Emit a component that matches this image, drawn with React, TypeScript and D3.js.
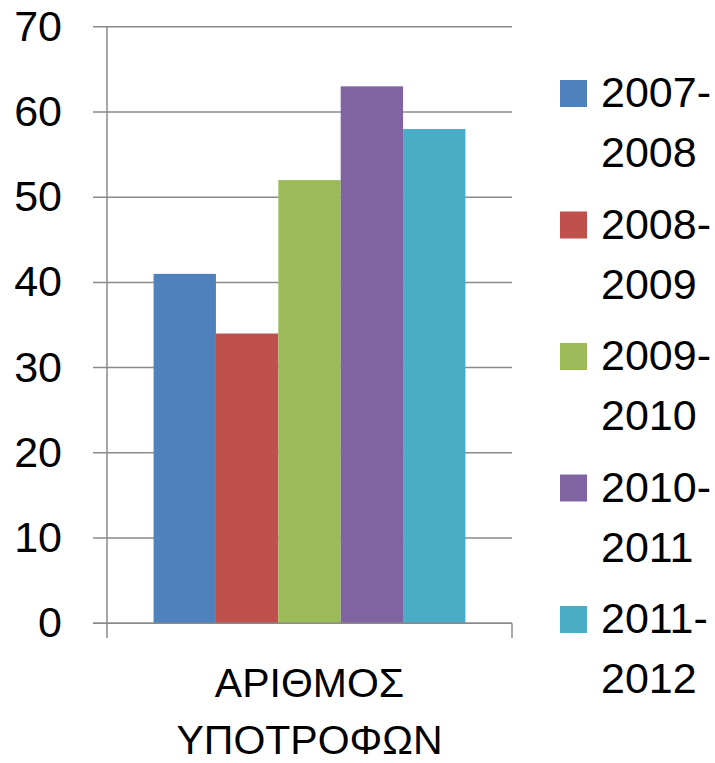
import React from "react";
import * as d3 from "d3";

const categories = ["ΑΡΙΘΜΟΣ ΥΠΟΤΡΟΦΩΝ"];
const categoryLines = [["ΑΡΙΘΜΟΣ", "ΥΠΟΤΡΟΦΩΝ"]];
const seriesNames = ["2007-2008", "2008-2009", "2009-2010", "2010-2011", "2011-2012"];
const seriesLegendLines = [["2007-", "2008"], ["2008-", "2009"], ["2009-", "2010"], ["2010-", "2011"], ["2011-", "2012"]];
const seriesValues = [41, 34, 52, 63, 58];
const seriesColors = ["#4F81BD", "#C0504D", "#9BBB59", "#8064A2", "#4BACC6"];
const yTicks = [0, 10, 20, 30, 40, 50, 60, 70];

const W = 715;
const H = 763;
const FONT = "'Liberation Sans', Arial, sans-serif";

export default function App() {
  const left = 107;
  const right = 512;
  const top = 26.7;
  const bottom = 623.3;

  const y = d3.scaleLinear().domain([0, 70]).range([bottom, top]);
  const x0 = d3.scaleBand<string>().domain(categories).range([left, right]).paddingInner(0).paddingOuter(0);
  const catW = x0.bandwidth();
  const groupW = catW * 0.77;
  const x1 = d3
    .scaleBand<string>()
    .domain(seriesNames)
    .range([(catW - groupW) / 2, (catW + groupW) / 2])
    .padding(0);

  const grid = "#8a8a8a";

  return (
    <svg
      width={W}
      height={H}
      style={{ position: "absolute", left: 0, top: 0, background: "#fff" }}
      fontFamily={FONT}
    >
      {/* gridlines and y tick labels */}
      {yTicks.map((t) => (
        <g key={t}>
          <line x1={93} x2={right} y1={y(t)} y2={y(t)} stroke={grid} strokeWidth={1.5} />
          <text x={62} y={y(t) + 14} textAnchor="end" fontSize={43} fill="#000">
            {t}
          </text>
        </g>
      ))}
      {/* bars */}
      {categories.map((c) => (
        <g key={c} transform={`translate(${x0(c)},0)`}>
          {seriesNames.map((s, i) => (
            <rect
              key={s}
              x={x1(s)}
              y={y(seriesValues[i])}
              width={x1.bandwidth()}
              height={y(0) - y(seriesValues[i])}
              fill={seriesColors[i]}
            />
          ))}
        </g>
      ))}
      {/* axes */}
      <line x1={left} x2={left} y1={top} y2={638} stroke={grid} strokeWidth={1.5} />
      <line x1={right} x2={right} y1={bottom} y2={638} stroke={grid} strokeWidth={1.5} />
      <line x1={93} x2={right} y1={bottom} y2={bottom} stroke={grid} strokeWidth={1.5} />
      {/* category labels */}
      {categories.map((c, ci) => (
        <text key={c} x={(x0(c) as number) + catW / 2} textAnchor="middle" fontSize={41} fill="#000">
          {categoryLines[ci].map((ln, li) => (
            <tspan key={li} x={(x0(c) as number) + catW / 2} y={697 + li * 57}>
              {ln}
            </tspan>
          ))}
        </text>
      ))}
      {/* legend */}
      {seriesNames.map((s, i) => {
        const ty = 80 + i * 131.5;
        return (
          <g key={s}>
            <rect x={560} y={ty} width={27} height={27} fill={seriesColors[i]} />
            <text fontSize={43} fill="#000">
              {seriesLegendLines[i].map((ln, li) => (
                <tspan key={li} x={601} y={ty + 27 + li * 60}>
                  {ln}
                </tspan>
              ))}
            </text>
          </g>
        );
      })}
    </svg>
  );
}
